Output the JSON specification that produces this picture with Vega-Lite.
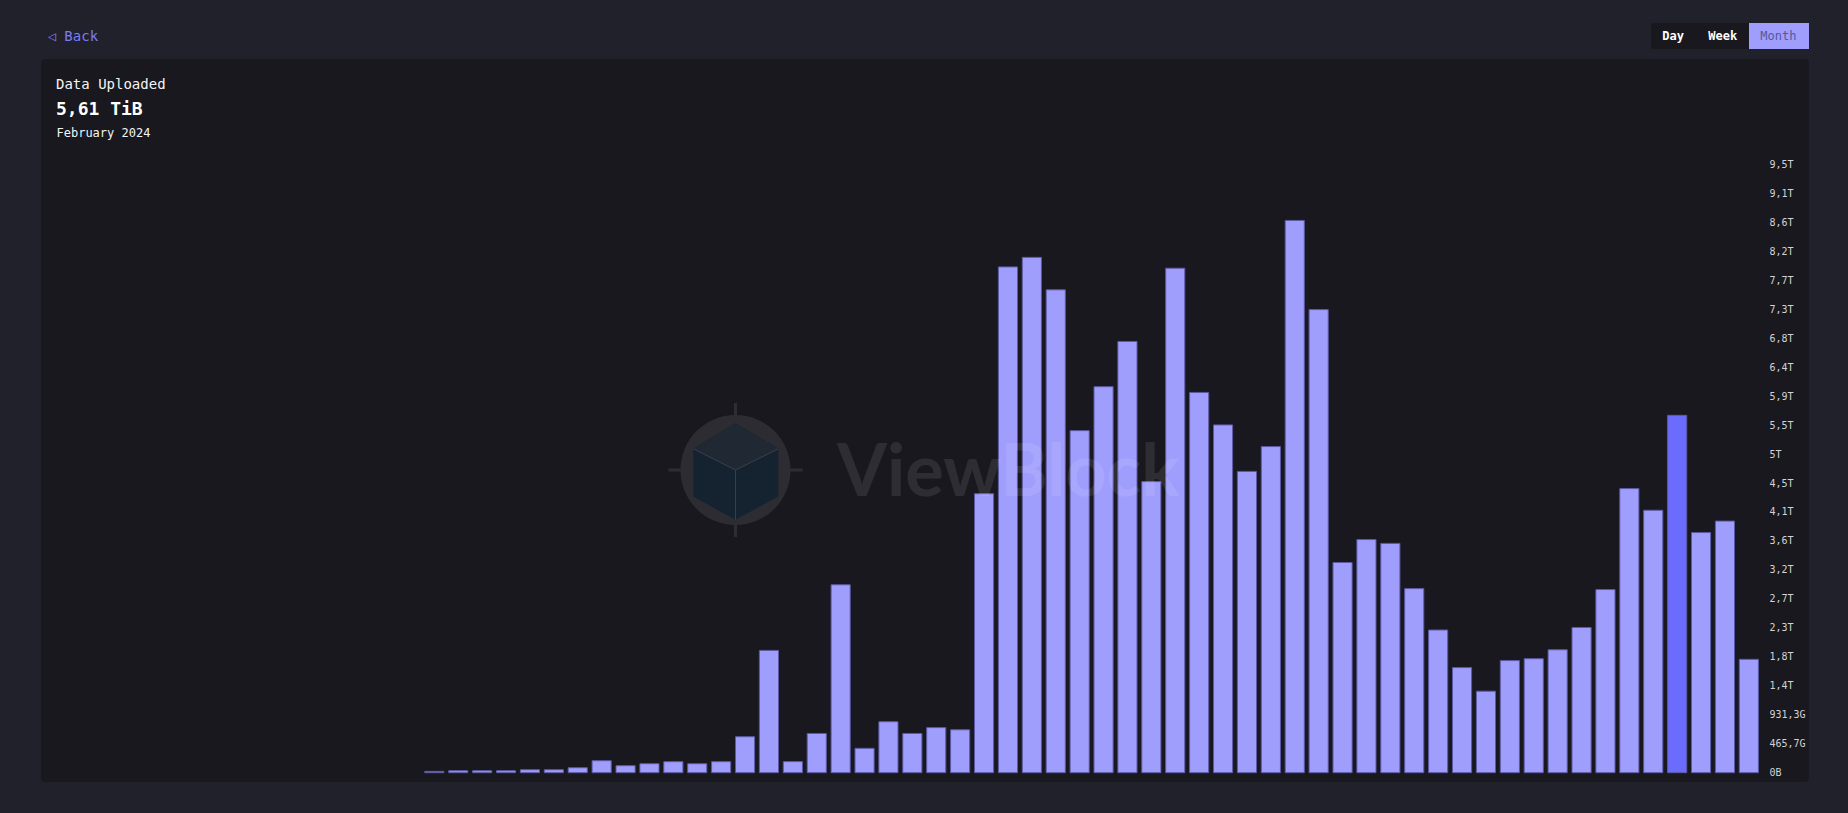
{
  "$schema": "https://vega.github.io/schema/vega-lite/v6.json",
  "width": 1768,
  "height": 723,
  "autosize": {"type": "none"},
  "padding": {"left": 41, "top": 59, "right": 39, "bottom": 31},
  "background": "#21212b",
  "view": {"fill": "#18181e", "stroke": null, "cornerRadius": 4},
  "config": {
    "view": {"stroke": null, "fill": "#18181e", "cornerRadius": 4},
    "font": "DejaVu Sans Mono",
    "axis": {"labelOverlap": false, "labelSeparation": 0},
    "axisY": {"labelOverlap": false}
  },
  "title": {
    "text": "Data Uploaded",
    "subtitle": "5,61 TiB",
    "anchor": "start",
    "frame": "group",
    "orient": "top",
    "offset": -96,
    "dx": 15,
    "font": "DejaVu Sans Mono",
    "fontSize": 14,
    "fontWeight": "normal",
    "color": "#f4f4f6",
    "subtitleFont": "DejaVu Sans Mono",
    "subtitleFontSize": 18,
    "subtitleFontWeight": "bold",
    "subtitleColor": "#ffffff",
    "subtitlePadding": 9
  },
  "data": {"values": [
    {"month":"2019-10","tib":0.021},
    {"month":"2019-11","tib":0.031},
    {"month":"2019-12","tib":0.031},
    {"month":"2020-01","tib":0.031},
    {"month":"2020-02","tib":0.047},
    {"month":"2020-03","tib":0.047},
    {"month":"2020-04","tib":0.078},
    {"month":"2020-05","tib":0.188},
    {"month":"2020-06","tib":0.110},
    {"month":"2020-07","tib":0.141},
    {"month":"2020-08","tib":0.173},
    {"month":"2020-09","tib":0.141},
    {"month":"2020-10","tib":0.173},
    {"month":"2020-11","tib":0.565},
    {"month":"2020-12","tib":1.92},
    {"month":"2021-01","tib":0.174},
    {"month":"2021-02","tib":0.616},
    {"month":"2021-03","tib":2.95},
    {"month":"2021-04","tib":0.383},
    {"month":"2021-05","tib":0.80},
    {"month":"2021-06","tib":0.616},
    {"month":"2021-07","tib":0.708},
    {"month":"2021-08","tib":0.674},
    {"month":"2021-09","tib":4.38},
    {"month":"2021-10","tib":7.94},
    {"month":"2021-11","tib":8.09},
    {"month":"2021-12","tib":7.58},
    {"month":"2022-01","tib":5.37},
    {"month":"2022-02","tib":6.06},
    {"month":"2022-03","tib":6.77},
    {"month":"2022-04","tib":4.57},
    {"month":"2022-05","tib":7.92},
    {"month":"2022-06","tib":5.97},
    {"month":"2022-07","tib":5.46},
    {"month":"2022-08","tib":4.73},
    {"month":"2022-09","tib":5.12},
    {"month":"2022-10","tib":8.67},
    {"month":"2022-11","tib":7.27},
    {"month":"2022-12","tib":3.30},
    {"month":"2023-01","tib":3.66},
    {"month":"2023-02","tib":3.60},
    {"month":"2023-03","tib":2.89},
    {"month":"2023-04","tib":2.24},
    {"month":"2023-05","tib":1.65},
    {"month":"2023-06","tib":1.28},
    {"month":"2023-07","tib":1.76},
    {"month":"2023-08","tib":1.79},
    {"month":"2023-09","tib":1.93},
    {"month":"2023-10","tib":2.28},
    {"month":"2023-11","tib":2.875},
    {"month":"2023-12","tib":4.46},
    {"month":"2024-01","tib":4.12},
    {"month":"2024-02","tib":5.61},
    {"month":"2024-03","tib":3.77},
    {"month":"2024-04","tib":3.95},
    {"month":"2024-05","tib":1.78}
  ]},
  "layer": [
    {
      "mark": {"type": "bar", "stroke": "#5b5aa5", "strokeWidth": 1},
      "encoding": {
        "x": {
          "field": "month", "type": "ordinal", "sort": "ascending",
          "scale": {"range": [381.4, 1719.8], "paddingInner": 0.2, "paddingOuter": 0.1},
          "axis": {
            "orient": "top", "labels": false, "ticks": false, "domain": false, "grid": false,
            "title": "February 2024", "titleX": 15, "titleY": 77, "titleAlign": "left",
            "titleBaseline": "alphabetic", "titleAngle": 0, "titleFont": "DejaVu Sans Mono",
            "titleFontSize": 12, "titleFontWeight": "normal", "titleColor": "#f4f4f6"
          }
        },
        "y": {
          "field": "tib", "type": "quantitative",
          "scale": {"domain": [-0.146, 11.204], "nice": false},
          "axis": {
            "orient": "right", "offset": -49, "labelPadding": 9,
            "ticks": false, "domain": false, "grid": false, "tickCount": 40,
            "values": [0, 0.454747, 0.909495, 1.364242, 1.818989, 2.273737, 2.728484, 3.183231, 3.637979, 4.092726, 4.547474, 5.002221, 5.456968, 5.911716, 6.366463, 6.82121, 7.275958, 7.730705, 8.185452, 8.6402, 9.094947, 9.549694],
            "labelExpr": "datum.value == 0 ? '0B' : datum.value < 1 ? replace(format(datum.value * 1024, '.1f'), '.', ',') + 'G' : replace(replace(format(datum.value, '.1f'), '.0', ''), '.', ',') + 'T'",
            "labelFont": "DejaVu Sans Mono", "labelFontSize": 10, "labelColor": "#d2d2d8",
            "labelAlign": "left", "labelBaseline": "middle", "labelFlush": false, "labelBound": false, "labelOverlap": false, "labelSeparation": 0,
            "title": "◁   Back", "titleX": -1713, "titleY": -23, "titleAngle": 0,
            "titleAlign": "left", "titleBaseline": "middle", "titleFont": "DejaVu Sans Mono",
            "titleFontSize": 14, "titleFontWeight": "normal", "titleColor": "#7b7bf4"
          }
        },
        "fill": {
          "condition": {"test": "datum.month === '2024-02'", "value": "#6b6bfc"},
          "value": "#a09efd"
        }
      }
    },
    {
      "data": {"values": [{"period": "Day"}, {"period": "Week"}, {"period": "Month"}]},
      "mark": {"type": "point", "filled": true, "opacity": 0},
      "encoding": {
        "fill": {
          "field": "period", "type": "nominal",
          "scale": {"domain": ["Day", "Week", "Month"], "range": ["#18181e", "#18181e", "#a09efd"]},
          "legend": {
            "orient": "none", "legendX": 1610, "legendY": -36, "direction": "horizontal", "title": null,
            "symbolSize": 676, "symbolStrokeWidth": 0, "symbolOpacity": 1, "labelOffset": -14.7,
            "labelFont": "DejaVu Sans Mono", "labelFontSize": 12,
            "labelFontWeight": {"expr": "datum.value === 'Month' ? 'normal' : 'bold'"},
            "labelColor": {"expr": "datum.value === 'Month' ? '#55559c' : '#ffffff'"},
            "columnPadding": 0, "padding": 0, "fillColor": "#18181e", "cornerRadius": 4, "columns": 3
          }
        },
        "shape": {
          "field": "period", "type": "nominal",
          "scale": {"domain": ["Day", "Week", "Month"], "range": ["M-1,-1H2.538V1H-1Z", "M-1,-1H3V1H-1Z", "M-1,-1H3.615V1H-1Z"]},
          "legend": {
            "orient": "none", "legendX": 1610, "legendY": -36, "direction": "horizontal", "title": null,
            "symbolSize": 676, "symbolStrokeWidth": 0, "symbolOpacity": 1, "labelOffset": -14.7,
            "labelFont": "DejaVu Sans Mono", "labelFontSize": 12,
            "labelFontWeight": {"expr": "datum.value === 'Month' ? 'normal' : 'bold'"},
            "labelColor": {"expr": "datum.value === 'Month' ? '#55559c' : '#ffffff'"},
            "columnPadding": 0, "padding": 0, "fillColor": "#18181e", "cornerRadius": 4, "columns": 3
          }
        }
      }
    },
    {
      "data": {"values": [{"brand": "ViewBlock"}]},
      "mark": {"type": "point", "shape": "circle", "size": 12100, "filled": true, "fill": "#ffffff", "opacity": 0.09, "strokeWidth": 0},
      "encoding": {
        "x": {"datum": "2020-11", "type": "ordinal", "bandPosition": 0},
        "y": {"datum": 4.752, "type": "quantitative"}
      }
    },
    {
      "data": {"values": [{"brand": "ViewBlock"}]},
      "mark": {"type": "point", "shape": "M0,-1.22V-1M0,1V1.22M-1.22,0H-1M1,0H1.22", "size": 12100, "filled": false, "stroke": "#ffffff", "strokeWidth": 3, "opacity": 0.09},
      "encoding": {
        "x": {"datum": "2020-11", "type": "ordinal", "bandPosition": 0},
        "y": {"datum": 4.752, "type": "quantitative"}
      }
    },
    {
      "data": {"values": [{"brand": "ViewBlock"}]},
      "mark": {"type": "point", "shape": "M0,-0.851L0.778,-0.385L0.778,0.482L0,0.905L-0.767,0.482L-0.767,-0.385Z", "size": 12100, "filled": true, "fill": "#152331", "opacity": 1, "strokeWidth": 0},
      "encoding": {
        "x": {"datum": "2020-11", "type": "ordinal", "bandPosition": 0},
        "y": {"datum": 4.752, "type": "quantitative"}
      }
    },
    {
      "data": {"values": [{"brand": "ViewBlock"}]},
      "mark": {"type": "point", "shape": "M0,-0.851L0.778,-0.385L0,0L-0.767,-0.385Z", "size": 12100, "filled": true, "fill": "#1f2833", "opacity": 1, "strokeWidth": 0},
      "encoding": {
        "x": {"datum": "2020-11", "type": "ordinal", "bandPosition": 0},
        "y": {"datum": 4.752, "type": "quantitative"}
      }
    },
    {
      "data": {"values": [{"brand": "ViewBlock"}]},
      "mark": {"type": "point", "shape": "M0,0V0.905M0,0L0.778,-0.385M0,0L-0.767,-0.385", "size": 12100, "filled": false, "stroke": "#3a404b", "strokeWidth": 1, "opacity": 1},
      "encoding": {
        "x": {"datum": "2020-11", "type": "ordinal", "bandPosition": 0},
        "y": {"datum": 4.752, "type": "quantitative"}
      }
    },
    {
      "data": {"values": [{"brand": "ViewBlock"}]},
      "mark": {"type": "text", "align": "left", "baseline": "alphabetic", "font": "Lato", "fontSize": 72, "fontWeight": "bold", "fill": "#ffffff", "opacity": 0.09},
      "encoding": {
        "text": {"field": "brand", "type": "nominal"},
        "x": {"datum": "2021-03", "type": "ordinal", "bandPosition": 0.31},
        "y": {"datum": 4.344, "type": "quantitative"}
      }
    }
  ]
}
